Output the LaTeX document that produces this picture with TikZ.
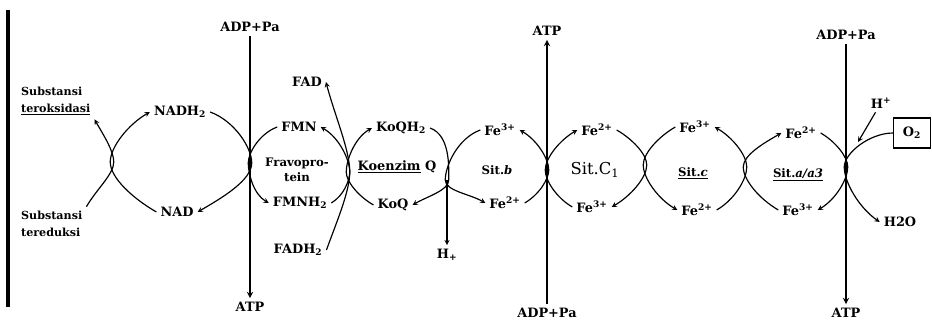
\documentclass[tikz,border=0pt]{standalone}
\usepackage{fontspec}
\setmainfont{DejaVu Serif}
\usetikzlibrary{arrows.meta}

\begin{document}
\begin{tikzpicture}[
        x=0.03cm, y=0.03cm,
        every node/.style={
            align=center,
            font=\bfseries\fontsize{11}{13}\selectfont
        },
        subst/.style={
            align=left,
            anchor=west,
            font=\bfseries\fontsize{9.5}{15}\selectfont
        },
        sit/.style={
            font=\bfseries\fontsize{10}{12}\selectfont
        },
        bigsit/.style={
            font=\fontsize{14}{16}\selectfont
        },
        box/.style={
            rectangle,
            draw,
            line width=1pt,
            minimum width=1.1cm,
            minimum height=0.9cm,
            inner sep=1pt
        },
        cyc/.style={
            ->,
            >=stealth,
            line width=1pt
        },
        flow/.style={
            ->,
            >=stealth,
            line width=1.4pt
        },
        into/.style={in looseness=0.6},
        outof/.style={out looseness=0.6}
    ]

    \useasboundingbox (0,0) rectangle (932,321);

    % membran kiri
    \draw[line width=3pt] (8,14) -- (8,311);

    % titik pertemuan siklus
    \coordinate (x1) at (112,159);
    \coordinate (x2) at (250,158);
    \coordinate (x3) at (348,149);
    \coordinate (x4) at (447,141);
    \coordinate (x5) at (547,151);
    \coordinate (x6) at (645,156);
    \coordinate (x7) at (745,154);
    \coordinate (x8) at (846,154);

    % substrat dan NAD
    \node[subst] (subox) at (17,220) {Substansi\\\underline{teroksidasi}};
    \node[subst] (subred) at (17,97) {Substansi\\tereduksi};
    \node (nadh) at (180,209) {NADH\textsubscript{2}};
    \node (nad) at (177,109) {NAD};

    % fosforilasi 1
    \node (adp1) at (250,294) {ADP+Pa};
    \node (atp1) at (250,14) {ATP};

    % flavoprotein
    \node (fad) at (307,239) {FAD};
    \node (fmn) at (299,194) {FMN};
    \node[font=\bfseries\fontsize{10}{13}\selectfont] (fravo) at (297,151) {Fravopro-\\tein};
    \node (fmnh) at (300,118) {FMNH\textsubscript{2}};
    \node (fadh) at (298,71) {FADH\textsubscript{2}};

    % koenzim Q
    \node (koqh) at (401,193) {KoQH\textsubscript{2}};
    \node (koenzim) at (397,154) {\underline{Koenzim} Q};
    \node (koq) at (393,116) {KoQ};
    \node (hplus1) at (447,66) {H\textsubscript{+}};

    % sitokrom b
    \node (fe3b) at (500,191) {Fe\textsuperscript{3+}};
    \node[sit] (sitb) at (497,151) {Sit.\textit{b}};
    \node (fe2b) at (505,118) {Fe\textsuperscript{2+}};

    % fosforilasi 2
    \node (atp2) at (547,290) {ATP};
    \node (adp2) at (547,8) {ADP+Pa};

    % sitokrom c1
    \node (fe2c1) at (597,191) {Fe\textsuperscript{2+}};
    \node[bigsit] (sitc1) at (595,151) {Sit.C\textsubscript{1}};
    \node (fe3c1) at (592,114) {Fe\textsuperscript{3+}};

    % sitokrom c
    \node (fe3c) at (695,194) {Fe\textsuperscript{3+}};
    \node[sit] (sitc) at (693,148) {\underline{Sit.\textit{c}}};
    \node (fe2c) at (697,111) {Fe\textsuperscript{2+}};

    % sitokrom a/a3
    \node (fe2a) at (801,188) {Fe\textsuperscript{2+}};
    \node[sit] (sita) at (798,146) {\underline{Sit.\textit{a/a3}}};
    \node (fe3a) at (798,111) {Fe\textsuperscript{3+}};

    % fosforilasi 3 dan oksigen
    \node (adp3) at (846,286) {ADP+Pa};
    \node (atp3) at (846,8) {ATP};
    \node (hplus2) at (881,218) {H\textsuperscript{+}};
    \coordinate (hin) at (858,179);
    \node[box] (o2) at (912,188) {O\textsubscript{2}};
    \node (h2o) at (900,99) {H2O};

    % ADP -> ATP
    \draw[flow] (adp1) -- (atp1);
    \draw[flow] (adp2) -- (atp2);
    \draw[flow] (adp3) -- (atp3);

    % siklus redoks
    \draw[cyc] (subred.north east) to[out=60,in=-90,into] ([xshift=1.5pt]x1) to[out=90,in=-60,outof] (subox.south east);
    \draw[cyc] (nad.west) to[out=150,in=-90,into] ([xshift=-1.5pt]x1) to[out=90,in=210,outof] (nadh.west);
    \draw[cyc] (nadh.east) to[out=-20,in=90,into] ([xshift=1.5pt]x2) to[out=-90,in=30,outof] (nad.east);
    \draw[cyc] (fmn.west) to[out=200,in=90,into] ([xshift=-1.5pt]x2) to[out=-90,in=150,outof] (fmnh.west);
    \draw[cyc] (fmnh.east) to[out=30,in=-90,into] ([xshift=1.5pt]x3) to[out=90,in=-30,outof] (fmn.east);
    \draw[cyc] (fadh.east) to[out=70,in=-90,into] ([xshift=1.5pt]x3) to[out=90,in=-75,outof] (fad.east);
    \draw[cyc] (koq.west) to[out=150,in=-90,into] ([xshift=-1.5pt]x3) to[out=90,in=210,outof] (koqh.west);
    \draw[cyc] (koqh.east) to[out=-20,in=90,into] ([xshift=1.5pt]x4) to[out=-90,in=30,outof] (koq.east);
    \draw[cyc] (x4) -- (hplus1);
    \draw[cyc] (fe3b.west) to[out=200,in=90,into] ([xshift=-1.5pt]x4) to[out=-90,in=150,outof] (fe2b.west);
    \draw[cyc] (fe2b.east) to[out=30,in=-90,into] ([xshift=1.5pt]x5) to[out=90,in=-30,outof] (fe3b.east);
    \draw[cyc] (fe3c1.west) to[out=150,in=-90,into] ([xshift=-1.5pt]x5) to[out=90,in=210,outof] (fe2c1.west);
    \draw[cyc] (fe2c1.east) to[out=-30,in=90,into] ([xshift=1.5pt]x6) to[out=-90,in=30,outof] (fe3c1.east);
    \draw[cyc] (fe3c.west) to[out=210,in=90,into] ([xshift=-1.5pt]x6) to[out=-90,in=150,outof] (fe2c.west);
    \draw[cyc] (fe2c.east) to[out=30,in=-90,into] ([xshift=1.5pt]x7) to[out=90,in=-30,outof] (fe3c.east);
    \draw[cyc] (fe3a.west) to[out=150,in=-90,into] ([xshift=-1.5pt]x7) to[out=90,in=210,outof] (fe2a.west);
    \draw[cyc] (fe2a.east) to[out=-30,in=90,into] ([xshift=1.5pt]x8) to[out=-90,in=30,outof] (fe3a.east);
    \draw[cyc] (o2.west) to[out=180,in=90,into] ([xshift=-1.5pt]x8) to[out=-90,in=145,outof] (h2o.west);
    \draw[cyc] (hplus2) -- (hin);

\end{tikzpicture}
\end{document}
